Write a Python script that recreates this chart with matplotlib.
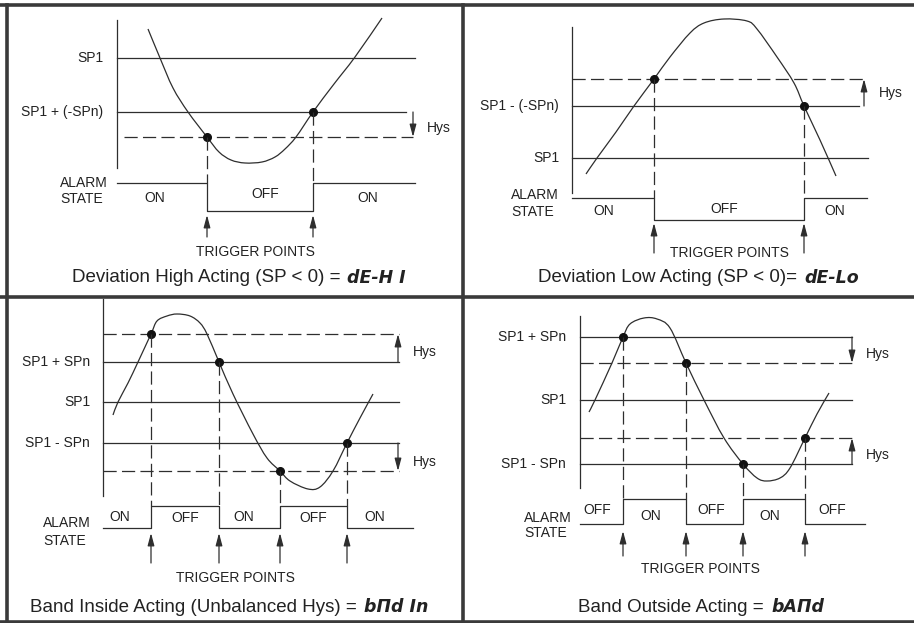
import matplotlib
matplotlib.use("Agg")
import matplotlib.pyplot as plt
from matplotlib.path import Path
from matplotlib.patches import PathPatch

plt.rcParams['font.family'] = ['Liberation Sans', 'DejaVu Sans']
plt.rcParams['lines.scale_dashes'] = False

INK = '#2e2e2e'

# ---- top left: deviation high acting ----
dh_levels = {'SP1': 58, 'SP1 + (-SPn)': 112}
dh_hys = 137
dh_curve_x = [148, 160, 173, 188, 207, 219, 231, 245, 262, 275, 285, 296, 313, 334, 355, 382]
dh_curve_y = [29, 58, 88, 112, 137, 152, 160, 163, 162, 157, 149, 137, 112, 84, 57, 18]
dh_trig = [207, 313]
dh_states = ['ON', 'OFF', 'ON']

# ---- top right: deviation low acting ----
dl_levels = {'SP1 - (-SPn)': 106, 'SP1': 158}
dl_hys = 79
dl_curve_x = [586, 597, 616, 634, 654, 670, 690, 704, 724, 747, 757, 777, 794, 804, 820, 836]
dl_curve_y = [174, 158, 132, 106, 79, 57, 33, 23, 19, 21, 29, 57, 83, 106, 140, 176]
dl_trig = [654, 804]
dl_states = ['ON', 'OFF', 'ON']

# ---- bottom left: band inside acting ----
bi_levels = {'SP1 + SPn': 362, 'SP1': 402, 'SP1 - SPn': 443}
bi_hys = [334, 471]
bi_curve_x = [113, 118, 128, 138, 151, 157, 167, 177, 190, 200, 207, 219, 233, 253, 267, 280, 290, 308, 320, 333, 347, 360, 373]
bi_curve_y = [415, 402, 383, 362, 334, 321, 316, 314, 316, 323, 334, 362, 394, 434, 458, 471, 481, 489, 487, 471, 443, 418, 394]
bi_trig = [151, 219, 280, 347]
bi_states = ['ON', 'OFF', 'ON', 'OFF', 'ON']

# ---- bottom right: band outside acting ----
bo_levels = {'SP1 + SPn': 337, 'SP1': 400, 'SP1 - SPn': 464}
bo_hys = [363, 438]
bo_curve_x = [589, 595, 612, 623, 630, 644, 657, 670, 686, 704, 724, 743, 757, 767, 780, 790, 805, 817, 829]
bo_curve_y = [412, 400, 363, 337, 324, 318, 319, 328, 363, 400, 438, 464, 478, 481, 478, 468, 438, 414, 393]
bo_trig = [623, 686, 743, 805]
bo_states = ['OFF', 'ON', 'OFF', 'ON', 'OFF']

fig = plt.figure(figsize=(9.14, 6.23), dpi=100)
ax = fig.add_axes([0, 0, 1, 1])
ax.set_xlim(0, 914)
ax.set_ylim(623, 0)
ax.axis('off')

# frame
fw = 2.6
ax.plot([0, 914], [5, 5], color='#3a3a3a', lw=fw)
ax.plot([0, 914], [622, 622], color='#3a3a3a', lw=fw)
ax.plot([0, 914], [297, 297], color='#3a3a3a', lw=fw)
ax.plot([6.5, 6.5], [5, 622], color='#3a3a3a', lw=fw)
ax.plot([463, 463], [5, 622], color='#3a3a3a', lw=fw)

DASH = (0, (9.5, 3.8))


def hline(y, x0, x1, dashed=False):
    ax.plot([x0, x1], [y, y], color=INK, lw=0.9, ls=DASH if dashed else '-')


def arrow(x, y_from, y_to):
    ax.annotate('', xy=(x, y_to), xytext=(x, y_from),
                arrowprops=dict(arrowstyle='-|>,head_length=0.75,head_width=0.2',
                                color=INK, lw=0.9, shrinkA=0, shrinkB=0))


def label(x, y, s, ha='center', size=10):
    ax.text(x, y, s, ha=ha, va='center', fontsize=size, color='#222222')


def title(x, y, s, disp):
    ax.text(x, y, s, ha='right', va='center', fontsize=13.5, color='#222222')
    ax.text(x + 7, y, disp, ha='left', va='center', fontsize=12.5, color='#222222',
            family='DejaVu Sans', weight='bold', style='italic')


def smooth(xs, ys):
    # bezier path through the read points (catmull-rom style handles)
    pts = list(zip(xs, ys))
    verts = [pts[0]]
    codes = [Path.MOVETO]
    for i in range(len(pts) - 1):
        p0 = pts[max(i - 1, 0)]
        p1 = pts[i]
        p2 = pts[i + 1]
        p3 = pts[min(i + 2, len(pts) - 1)]
        c1 = (p1[0] + (p2[0] - p0[0]) / 6, p1[1] + (p2[1] - p0[1]) / 6)
        c2 = (p2[0] - (p3[0] - p1[0]) / 6, p2[1] - (p3[1] - p1[1]) / 6)
        verts += [c1, c2, p2]
        codes += [Path.CURVE4] * 3
    ax.add_patch(PathPatch(Path(verts, codes), fill=False, edgecolor=INK, lw=0.9))


def alarm(x0, x1, trig, hi, lo, start_hi):
    xs, ys = [x0], []
    level = hi if start_hi else lo
    ys.append(level)
    for t in trig:
        xs += [t, t]
        nxt = lo if level == hi else hi
        ys += [level, nxt]
        level = nxt
    xs.append(x1)
    ys.append(level)
    ax.plot(xs, ys, color=INK, lw=0.9)


# ================= panel 1 =================
ax.plot([117, 117], [20, 168], color=INK, lw=0.9)
for name, y in dh_levels.items():
    hline(y, 117, 415 if name == 'SP1' else 406)
    label(103, y, name, ha='right')
hline(dh_hys, 124, 413, dashed=True)
arrow(413, 112, dh_hys)
label(427, 128, 'Hys', ha='left')
smooth(dh_curve_x, dh_curve_y)
ax.plot([207, 313], [dh_hys, 112], 'o', color='#111111', ms=5.5)
ax.plot([207, 207], [dh_hys, 183], color=INK, lw=0.9, ls=DASH)
ax.plot([313, 313], [112, 183], color=INK, lw=0.9, ls=DASH)
alarm(117, 415, dh_trig, 183, 211, True)
label(60, 183, 'ALARM', ha='left')
label(60, 199, 'STATE', ha='left')
for x, y, s in zip([155, 265, 368], [198, 194, 198], dh_states):
    label(x, y, s)
for t in dh_trig:
    arrow(t, 237, 215)
label(255, 252, 'TRIGGER POINTS')
title(340, 278, 'Deviation High Acting (SP < 0) =', 'dE-H I')

# ================= panel 2 =================
ax.plot([572, 572], [27, 193], color=INK, lw=0.9)
for name, y in dl_levels.items():
    hline(y, 572, 859 if name != 'SP1' else 868)
    label(559, y, name, ha='right')
hline(dl_hys, 572, 867, dashed=True)
arrow(864, 106, dl_hys)
label(879, 93, 'Hys', ha='left')
smooth(dl_curve_x, dl_curve_y)
ax.plot([654, 804], [dl_hys, 106], 'o', color='#111111', ms=5.5)
ax.plot([654, 654], [dl_hys, 198], color=INK, lw=0.9, ls=DASH)
ax.plot([804, 804], [106, 198], color=INK, lw=0.9, ls=DASH)
alarm(572, 867, dl_trig, 198, 220, True)
label(511, 195, 'ALARM', ha='left')
label(511, 212, 'STATE', ha='left')
for x, y, s in zip([604, 724, 835], [211, 209, 211], dl_states):
    label(x, y, s)
for t in dl_trig:
    arrow(t, 253, 223)
label(729, 253, 'TRIGGER POINTS')
title(797, 278, 'Deviation Low Acting (SP < 0)=', 'dE-Lo')

# ================= panel 3 =================
ax.plot([103, 103], [299, 496], color=INK, lw=0.9)
for name, y in bi_levels.items():
    hline(y, 103, 399)
    label(90, y, name, ha='right')
for y in bi_hys:
    hline(y, 103, 399, dashed=True)
arrow(398, 362, bi_hys[0])
arrow(398, 443, bi_hys[1])
label(413, 352, 'Hys', ha='left')
label(413, 462, 'Hys', ha='left')
smooth(bi_curve_x, bi_curve_y)
bi_dot_y = [bi_hys[0], 362, bi_hys[1], 443]
ax.plot(bi_trig, bi_dot_y, 'o', color='#111111', ms=5.5)
for t, y in zip(bi_trig, bi_dot_y):
    ax.plot([t, t], [y, 506], color=INK, lw=0.9, ls=DASH)
alarm(103, 413, bi_trig, 506, 528, False)
label(43, 523, 'ALARM', ha='left')
label(43, 541, 'STATE', ha='left')
for x, y, s in zip([120, 185, 244, 313, 375], [517, 518, 517, 518, 517], bi_states):
    label(x, y, s)
for t in bi_trig:
    arrow(t, 563, 533)
label(235, 578, 'TRIGGER POINTS')
title(357, 607, 'Band Inside Acting (Unbalanced Hys) =', 'bΠd In')

# ================= panel 4 =================
ax.plot([580, 580], [316, 488], color=INK, lw=0.9)
for name, y in bo_levels.items():
    hline(y, 580, 852)
    label(566, y, name, ha='right')
for y in bo_hys:
    hline(y, 580, 852, dashed=True)
arrow(852, 337, bo_hys[0])
arrow(852, 464, bo_hys[1])
label(866, 354, 'Hys', ha='left')
label(866, 455, 'Hys', ha='left')
smooth(bo_curve_x, bo_curve_y)
bo_dot_y = [337, bo_hys[0], 464, bo_hys[1]]
ax.plot(bo_trig, bo_dot_y, 'o', color='#111111', ms=5.5)
for t, y in zip(bo_trig, bo_dot_y):
    ax.plot([t, t], [y, 499], color=INK, lw=0.9, ls=DASH)
alarm(580, 865, bo_trig, 499, 524, False)
label(524, 518, 'ALARM', ha='left')
label(524, 533, 'STATE', ha='left')
for x, y, s in zip([597, 651, 711, 770, 832], [510, 516, 510, 516, 510], bo_states):
    label(x, y, s)
for t in bo_trig:
    arrow(t, 556, 531)
label(700, 569, 'TRIGGER POINTS')
title(764, 607, 'Band Outside Acting =', 'bAΠd')

fig.savefig('out.png', dpi=100)
